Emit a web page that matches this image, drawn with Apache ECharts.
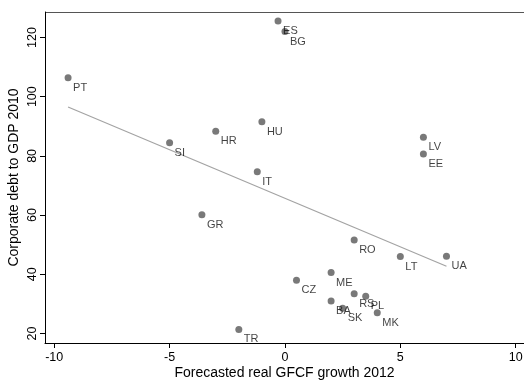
<!DOCTYPE html>
<html>
<head>
<meta charset="utf-8">
<script src="https://cdn.jsdelivr.net/npm/echarts@6/dist/echarts.min.js"></script>
<style>
  html, body { margin: 0; padding: 0; background: #fff; }
  #chart { width: 524px; height: 380px; }
</style>
</head>
<body>
<div id="chart"></div>
<script>
// Country codes and their values
const countries = ['PT','SI','HR','HU','IT','GR','LV','EE','LT','UA','RO','ME','CZ','RS','PL','BA','SK','MK','TR','ES','BG'];
const gfcfGrowth = [-9.4,-5.0,-3.0,-1.0,-1.2,-3.6,6.0,6.0,5.0,7.0,3.0,2.0,0.5,3.0,3.5,2.0,2.5,4.0,-2.0,-0.3,0.0];
const corpDebt   = [106.4,84.4,88.3,91.5,74.6,60.1,86.3,80.6,46.0,46.1,51.6,40.6,38.0,33.4,32.6,31.0,28.5,27.0,21.4,125.6,122.0];

// Fitted line end points
const fitX = [-9.4, 7.0];
const fitY = [96.5, 42.7];

// Tick values
const xTicks = [-10, -5, 0, 5, 10];
const yTicks = [20, 40, 60, 80, 100, 120];

const font = 'Liberation Sans, Arial, Helvetica, sans-serif';

const points = countries.map((c, i) => ({ name: c, value: [gfcfGrowth[i], corpDebt[i]] }));
const fitLine = fitX.map((x, i) => [x, fitY[i]]);

const chart = echarts.init(document.getElementById('chart'), null, { renderer: 'canvas' });
chart.setOption({
  animation: false,
  backgroundColor: '#ffffff',
  textStyle: { fontFamily: font },
  grid: { left: 45, right: 0, top: 12, bottom: 37, containLabel: false, outerBoundsMode: 'none' },
  xAxis: {
    type: 'value',
    min: -10.4, max: 10.36,
    name: 'Forecasted real GFCF growth 2012',
    nameLocation: 'middle',
    nameMoveOverlap: false,
    nameGap: 23,
    nameTextStyle: { fontSize: 14, color: '#000', fontFamily: font },
    axisLine: { show: true, onZero: false, lineStyle: { color: '#000', width: 1 } },
    axisTick: { show: true, length: 5, inside: false, customValues: xTicks, lineStyle: { color: '#000' } },
    axisLabel: { fontSize: 12.5, color: '#000', margin: 8, customValues: xTicks, fontFamily: font },
    splitLine: { show: false }
  },
  yAxis: {
    type: 'value',
    min: 16.8, max: 128.6,
    name: 'Corporate debt to GDP 2010',
    nameLocation: 'middle',
    nameMoveOverlap: false,
    nameGap: 24,
    nameRotate: 90,
    nameTextStyle: { fontSize: 14, color: '#000', fontFamily: font },
    axisLine: { show: true, onZero: false, lineStyle: { color: '#000', width: 1 } },
    axisTick: { show: true, length: 5, customValues: yTicks, lineStyle: { color: '#000' } },
    axisLabel: { fontSize: 12.5, color: '#000', margin: 6, rotate: 90, customValues: yTicks, fontFamily: font },
    splitLine: { show: false }
  },
  graphic: [{
    type: 'line',
    shape: { x1: 45, y1: 12.5, x2: 524, y2: 12.5 },
    style: { stroke: '#555', lineWidth: 1 }
  }],
  series: [
    {
      type: 'line',
      data: fitLine,
      symbol: 'none',
      lineStyle: { color: '#a3a3a3', width: 1.2 },
      z: 1
    },
    {
      type: 'scatter',
      data: points,
      symbol: 'circle',
      symbolSize: 7,
      itemStyle: { color: '#575757' },
      label: {
        show: true,
        formatter: '{b}',
        position: 'right',
        distance: 1.5,
        offset: [0, 10],
        fontSize: 11,
        color: '#111',
        fontFamily: font
      },
      z: 2
    }
  ]
});
</script>
</body>
</html>
